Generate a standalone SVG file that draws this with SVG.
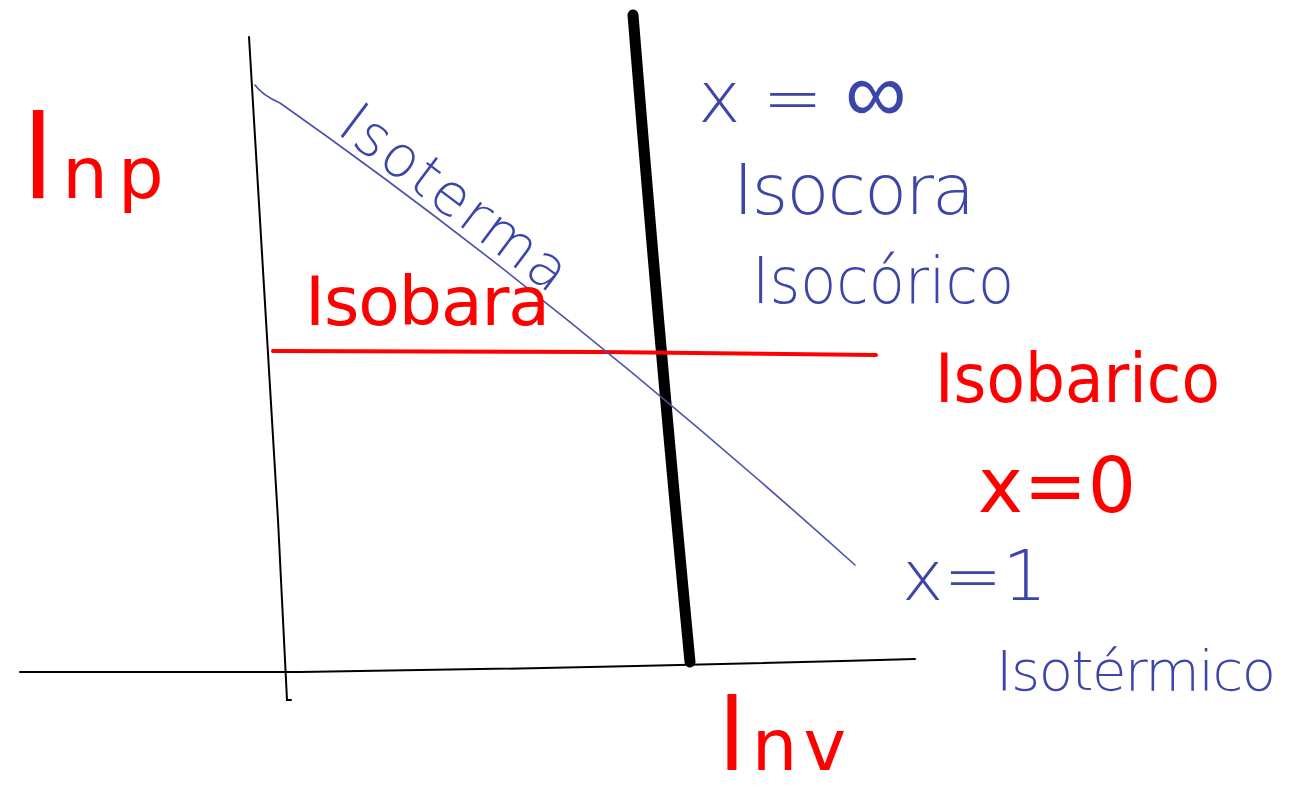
<svg xmlns="http://www.w3.org/2000/svg" width="1295" height="796" viewBox="0 0 1295 796">
<style>
.red{fill:#f00;font-family:"DejaVu Sans","Liberation Sans",sans-serif}
.blue{fill:#3c46a8;font-family:"DejaVu Sans","Liberation Sans",sans-serif;font-weight:300}
.ax{fill:none;stroke:#000;stroke-width:2;stroke-linecap:round}
</style>
<rect width="1295" height="796" fill="#fff"/>
<g id="connectors">
<path class="ax" d="M249,37 Q262,250 278,520 L287,700 L291,700"/>
<path class="ax" d="M20,672 L300,672 Q600,668 915,659"/>
<path d="M633,15 Q660,350 690,662" fill="none" stroke="#000" stroke-width="11" stroke-linecap="round"/>
<path d="M273,351 L600,352 L876,355" fill="none" stroke="#f00" stroke-width="4" stroke-linecap="round"/>
<path d="M255,85 Q262,95 280,103 Q560,300 855,565" fill="none" stroke="#4a52a8" stroke-width="1.6" stroke-linecap="round"/>
</g>
<g id="lnp"><text class="red" x="22" y="198"><tspan font-size="116">l</tspan><tspan font-size="72" dx="8">n</tspan><tspan font-size="72" dx="10">p</tspan></text></g>
<g id="lnv"><text class="red" x="718" y="770"><tspan font-size="100">l</tspan><tspan font-size="72" dx="6">n</tspan><tspan font-size="72" dx="6">v</tspan></text></g>
<g id="isoterma"><text class="blue" transform="translate(335,132) rotate(37)" font-size="58" textLength="270" lengthAdjust="spacing">Isoterma</text></g>
<g id="isobara"><text class="red" x="305" y="325" font-size="68" textLength="245" lengthAdjust="spacing">Isobara</text></g>
<g id="xinf"><text class="blue" x="698" y="122" font-size="72">x<tspan dx="22">=</tspan><tspan dx="22" font-size="86">∞</tspan></text></g>
<g id="isocora"><text class="blue" x="733" y="214" font-size="70" textLength="242" lengthAdjust="spacing">Isocora</text></g>
<g id="isocorico"><text class="blue" x="752" y="303" font-size="64" textLength="262" lengthAdjust="spacingAndGlyphs">Isocórico</text></g>
<g id="isobarico"><text class="red" x="935" y="402" font-size="68" textLength="285" lengthAdjust="spacingAndGlyphs">Isobarico</text></g>
<g id="x0"><text class="red" x="978" y="512" font-size="76" textLength="158" lengthAdjust="spacing">x=0</text></g>
<g id="x1"><text class="blue" x="902" y="600" font-size="70" textLength="145" lengthAdjust="spacing">x = 1</text></g>
<g id="isotermico"><text class="blue" x="996" y="690" font-size="56" textLength="280" lengthAdjust="spacing">Isotérmico</text></g>
</svg>
